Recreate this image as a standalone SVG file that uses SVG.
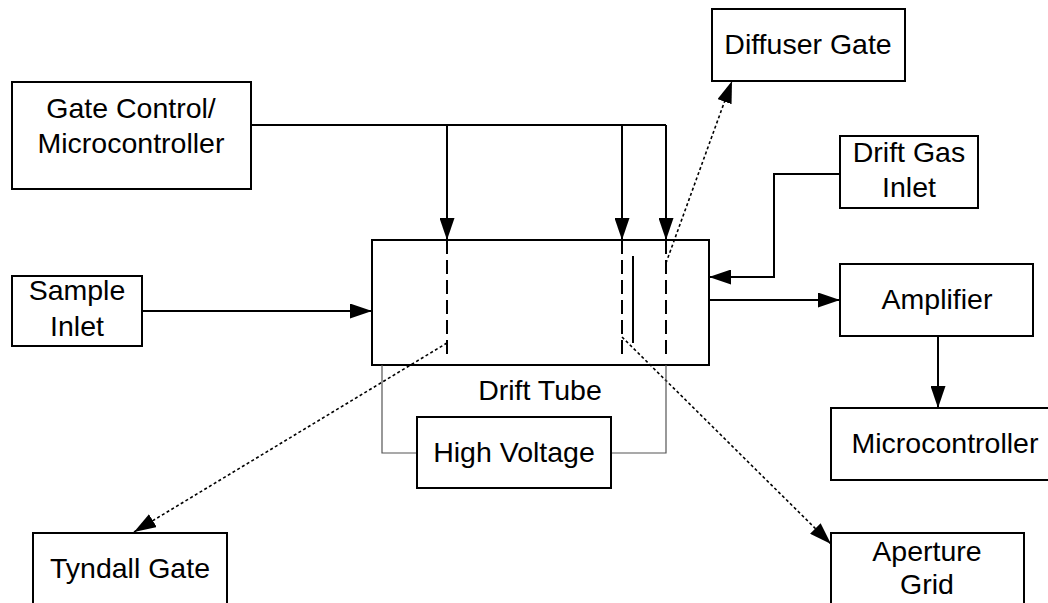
<svg xmlns="http://www.w3.org/2000/svg" width="1048" height="603" viewBox="0 0 1048 603">
<style>
.box{fill:#fff;stroke:#000;stroke-width:2}
.t{font-family:"Liberation Sans",Arial,sans-serif;font-size:28.5px;fill:#000;text-anchor:middle}
.c{fill:none;stroke:#000;stroke-width:2}
.d{fill:none;stroke:#000;stroke-width:1.6;stroke-dasharray:3 2.5}
.hv{fill:none;stroke:#555;stroke-width:1.2}
.grid{fill:none;stroke:#000;stroke-width:2;stroke-dasharray:14 6}
</style>
<defs>
<marker id="ah" markerUnits="userSpaceOnUse" markerWidth="22" markerHeight="15" refX="22" refY="7.5" orient="auto">
<path d="M0,0 L22,7.5 L0,15 z" fill="#000"/>
</marker>
</defs>
<g id="drift-tube">
<rect class="box" x="372" y="240" width="337" height="125"/>
<line class="grid" x1="447" y1="240" x2="447" y2="358"/>
<line class="grid" x1="622" y1="240" x2="622" y2="358"/>
<line class="grid" x1="666" y1="240" x2="666" y2="358"/>
<line class="c" x1="633" y1="256" x2="633" y2="343"/>
<text class="t" x="540" y="400">Drift Tube</text>
</g>
<g id="connectors">
<path class="c" d="M251,125 H666"/>
<path class="c" d="M447,125 V240" marker-end="url(#ah)"/>
<path class="c" d="M622,125 V240" marker-end="url(#ah)"/>
<path class="c" d="M666,125 V240" marker-end="url(#ah)"/>
<path class="c" d="M142,311 H372" marker-end="url(#ah)"/>
<path class="c" d="M840,174 H774 V277 H709" marker-end="url(#ah)"/>
<path class="c" d="M709,300 H840" marker-end="url(#ah)"/>
<path class="c" d="M938,336 V408" marker-end="url(#ah)"/>
<path class="d" d="M447,343 L134,532" marker-end="url(#ah)"/>
<path class="d" d="M622,337 L831,544" marker-end="url(#ah)"/>
<path class="d" d="M666,263 L732,81" marker-end="url(#ah)"/>
<path class="hv" d="M382,365 V453 H417"/>
<path class="hv" d="M611,453 H666 V365"/>
</g>
<g id="gate-control">
<rect class="box" x="12" y="82" width="239" height="107"/>
<text class="t" x="131" y="118">Gate Control/</text>
<text class="t" x="131" y="153">Microcontroller</text>
</g>
<g id="diffuser-gate">
<rect class="box" x="712" y="9" width="193" height="72"/>
<text class="t" x="808" y="54">Diffuser Gate</text>
</g>
<g id="drift-gas-inlet">
<rect class="box" x="840" y="136" width="138" height="72"/>
<text class="t" x="909" y="162">Drift Gas</text>
<text class="t" x="909" y="197">Inlet</text>
</g>
<g id="sample-inlet">
<rect class="box" x="12" y="276" width="130" height="70"/>
<text class="t" x="77" y="300">Sample</text>
<text class="t" x="77" y="336">Inlet</text>
</g>
<g id="amplifier">
<rect class="box" x="840" y="264" width="193" height="72"/>
<text class="t" x="937" y="309">Amplifier</text>
</g>
<g id="microcontroller">
<rect class="box" x="831" y="408" width="230" height="72"/>
<text class="t" x="945" y="453">Microcontroller</text>
</g>
<g id="high-voltage">
<rect class="box" x="417" y="417" width="194" height="71"/>
<text class="t" x="514" y="462">High Voltage</text>
</g>
<g id="tyndall-gate">
<rect class="box" x="33" y="533" width="194" height="80"/>
<text class="t" x="130" y="578">Tyndall Gate</text>
</g>
<g id="aperture-grid">
<rect class="box" x="831" y="533" width="193" height="80"/>
<text class="t" x="927" y="561">Aperture</text>
<text class="t" x="927" y="594">Grid</text>
</g>
</svg>
